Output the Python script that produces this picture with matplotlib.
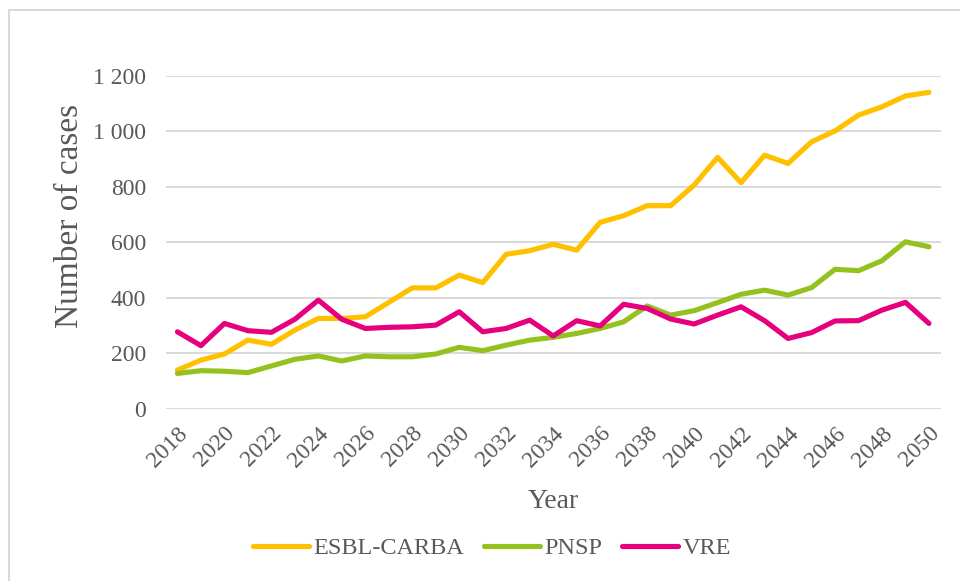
import matplotlib
matplotlib.use("Agg")
import matplotlib.pyplot as plt
from matplotlib.ticker import FuncFormatter, FixedLocator
from matplotlib.patches import Rectangle

years = list(range(2018, 2051))
esbl_carba = [140, 176, 198, 248, 233, 284, 326, 326, 332, 384, 436, 436, 482, 455, 557, 570,
              593, 572, 672, 696, 732, 732, 806, 906, 815, 914, 884, 962, 1001, 1058, 1088, 1127, 1140]
pnsp = [128, 138, 136, 131, 155, 179, 191, 173, 191, 188, 188, 198, 222, 210, 230, 248,
        258, 272, 290, 314, 371, 338, 354, 383, 413, 428, 410, 437, 503, 498, 534, 602, 584]
vre = [278, 228, 308, 282, 276, 323, 392, 323, 290, 294, 296, 302, 350, 278, 290, 320,
       263, 318, 299, 377, 362, 324, 306, 338, 368, 318, 254, 275, 317, 318, 356, 384, 308]
series_names = ["ESBL-CARBA", "PNSP", "VRE"]
series_colors = ["#FFC000", "#95C11F", "#E6007E"]
x_tick_years = list(range(2018, 2051, 2))
y_ticks = [0, 200, 400, 600, 800, 1000, 1200]

FONT = ["Liberation Serif", "DejaVu Serif"]
TXT = "#595959"
GRID = "#D9D9D9"

plt.rcParams['font.family'] = FONT

fig = plt.figure(figsize=(9.6, 5.81), dpi=100)
fig.patch.set_facecolor("white")
ax = fig.add_axes([165.7/960, 1-409/581, (940.7-165.7)/960, (409-75.7)/581])

for vals, name, col in zip([esbl_carba, pnsp, vre], series_names, series_colors):
    ax.plot(years, vals, color=col, lw=3.7, label=name, solid_capstyle='round',
            solid_joinstyle='round', zorder=3)

ax.set_xlim(2017.5, 2050.5)
ax.set_ylim(0, 1200)
ax.yaxis.set_major_locator(FixedLocator(y_ticks))
ax.yaxis.set_major_formatter(FuncFormatter(lambda v, p: f"{int(v):,}".replace(",", " ")))
ax.grid(axis='y', color=GRID, lw=1.4, zorder=0)
ax.set_axisbelow(True)
for s in ax.spines.values():
    s.set_visible(False)
ax.tick_params(axis='y', length=0, labelsize=17, labelcolor=TXT, pad=14)
ax.set_xticks(x_tick_years)
ax.set_xticklabels([str(y) for y in x_tick_years], rotation=45, ha='right', va='top',
                   rotation_mode='anchor', fontsize=17, color=TXT)
ax.tick_params(axis='x', length=0, pad=10)

fig.text(553/960, 1-501/581, "Year", ha='center', va='center', fontsize=20, color=TXT)
fig.text(70/960, 1-216/581, "Number of cases", ha='center', va='center', rotation=90,
         fontsize=24, color=TXT)

leg = fig.legend(loc='center', bbox_to_anchor=(492/960, 1-548/581), ncol=3, frameon=False,
                 fontsize=17.5, handlelength=2.3, handletextpad=0.2, columnspacing=0.8)
for t in leg.get_texts():
    t.set_color(TXT)

fig.add_artist(Rectangle((9/960, -0.1), 2, 1-9.5/581+0.1, transform=fig.transFigure,
                         fill=False, edgecolor=GRID, lw=1.5))

fig.savefig("out.png", dpi=100)
